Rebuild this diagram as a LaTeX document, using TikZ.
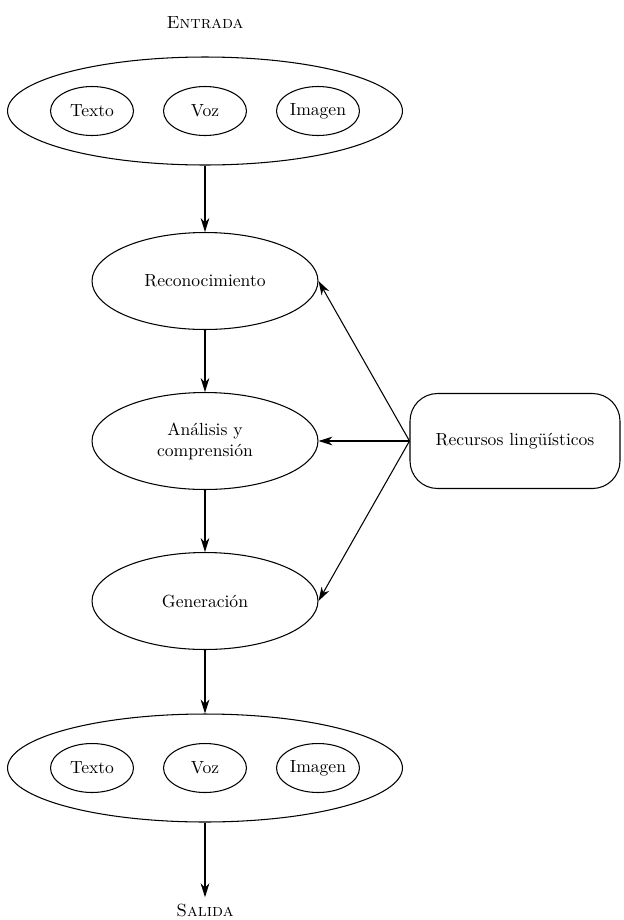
\documentclass[tikz,border=0pt]{standalone}
\usetikzlibrary{shapes.geometric,arrows.meta}

\begin{document}
\begin{tikzpicture}[
    x=0.02cm, y=-0.02cm, semithick,
    stage/.style={ellipse, draw, inner sep=0pt, minimum width=4.52cm, minimum height=1.94cm, align=center},
    media/.style={ellipse, draw, inner sep=0pt, minimum width=7.9cm, minimum height=2.16cm},
    kind/.style={ellipse, draw, inner sep=0pt, minimum width=1.66cm, minimum height=0.98cm},
    res/.style={rectangle, draw, rounded corners=0.55cm, minimum width=4.2cm, minimum height=1.9cm},
    arrow/.style={->, >={Stealth[length=8pt,width=5pt]}}
]
\useasboundingbox (0,0) rectangle (624,920);

% Entrada (absolute coordinates)
\node (entrada) at (205,23) {\textsc{Entrada}};
\node[media] (inp) at (205,111) {};
\node[kind] (intexto) at (92,111) {Texto};
\node[kind] (invoz) at (205,111) {Voz};
\node[kind] (inimagen) at (318,111) {Imagen};

% Processing chain
\node[stage] (reco) at (205,281) {Reconocimiento};
\node[stage] (anal) at (205,441) {Análisis y\\comprensión};
\node[stage] (gen) at (205,601) {Generación};

% Resources
\node[res] (recursos) at (515,441) {Recursos lingüísticos};

% Salida
\node[media] (out) at (205,768) {};
\node[kind] (outtexto) at (92,768) {Texto};
\node[kind] (outvoz) at (205,768) {Voz};
\node[kind] (outimagen) at (318,768) {Imagen};
\node (salida) at (205,910) {\textsc{Salida}};

% Vertical arrows
\draw[arrow] (inp) -- (reco);
\draw[arrow] (reco) -- (anal);
\draw[arrow] (anal) -- (gen);
\draw[arrow] (gen) -- (out);
\draw[arrow] (out) -- (salida);

% Resources to stages
\draw[arrow] (recursos.west) -- (reco.east);
\draw[arrow] (recursos.west) -- (anal.east);
\draw[arrow] (recursos.west) -- (gen.east);

\end{tikzpicture}
\end{document}
